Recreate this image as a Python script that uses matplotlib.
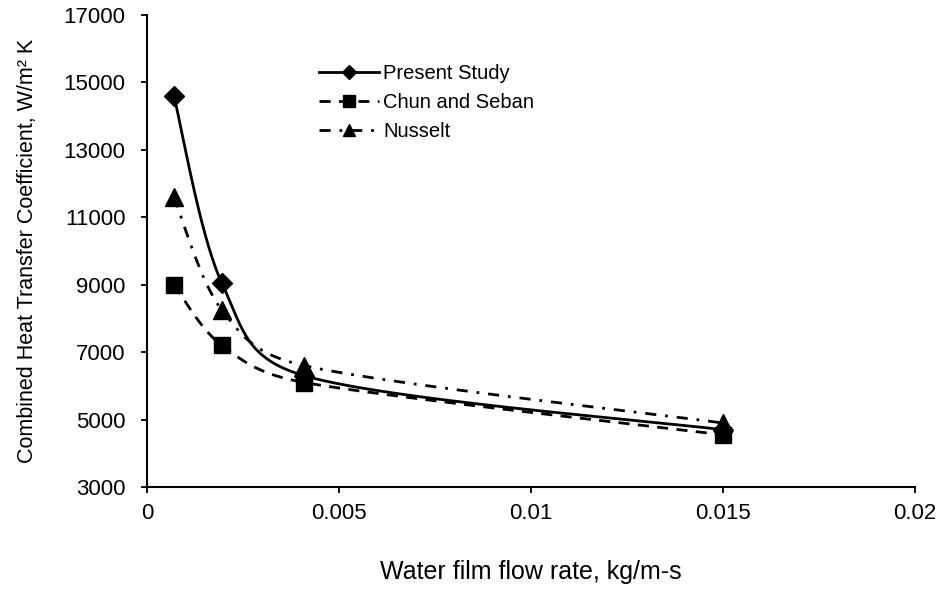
import matplotlib

matplotlib.use("Agg")
import matplotlib.pyplot as plt
import numpy as np

# water film flow rate, kg/m-s
flow_rate = [0.0007, 0.00195, 0.0041, 0.015]

present_study = [14600, 9050, 6300, 4700]
chun_seban = [9000, 7200, 6100, 4550]
nusselt = [11600, 8250, 6600, 4900]

x_ticks = [0, 0.005, 0.01, 0.015, 0.02]
x_tick_labels = ["0", "0.005", "0.01", "0.015", "0.02"]
y_ticks = [3000, 5000, 7000, 9000, 11000, 13000, 15000, 17000]

plt.rcParams["font.family"] = ["Liberation Sans", "DejaVu Sans"]


def smooth_curve(ax, xs, ys, n=80):
    # Bezier smoothing through the points (spreadsheet-style), done in
    # display space; control arms are capped at half the segment length.
    pts = ax.transData.transform(np.column_stack([xs, ys]))
    p = np.vstack([pts[0], pts, pts[-1]])
    out = []
    t = np.linspace(0, 1, n)[:, None]
    for i in range(1, len(p) - 2):
        p0, p1, p2, p3 = p[i - 1], p[i], p[i + 1], p[i + 2]
        d12 = np.linalg.norm(p2 - p1)
        d02 = np.linalg.norm(p2 - p0)
        d13 = np.linalg.norm(p3 - p1)
        f1 = 1 / 6 if d02 / 6 < d12 / 2 else (d12 / 2) / d02
        f2 = 1 / 6 if d13 / 6 < d12 / 2 else (d12 / 2) / d13
        c1 = p1 + (p2 - p0) * f1
        c2 = p2 - (p3 - p1) * f2
        seg = ((1 - t) ** 3) * p1 + 3 * ((1 - t) ** 2) * t * c1 + 3 * (1 - t) * t ** 2 * c2 + t ** 3 * p2
        out.append(seg if i == 1 else seg[1:])
    curve = ax.transData.inverted().transform(np.vstack(out))
    return curve[:, 0], curve[:, 1]


fig = plt.figure(figsize=(9.42, 5.94), dpi=100)
ax = fig.add_axes([0.156, 0.18, 0.815, 0.795])
ax.set_xlim(0, 0.02)
ax.set_ylim(3000, 17000)

series = [
    ("Present Study", present_study, "-", "D", 10, 7),
    ("Chun and Seban", chun_seban, (0, (4, 3)), "s", 11.5, 8),
    ("Nusselt", nusselt, (0, (4, 3.2, 1, 3.2)), "^", 12.5, 9),
]

for label, values, ls, marker, ms, legend_ms in series:
    sx, sy = smooth_curve(ax, flow_rate, values)
    ax.plot(sx, sy, color="black", linestyle=ls, linewidth=2.0)
    ax.plot(flow_rate, values, linestyle="none", marker=marker, markersize=ms, color="black")
    # legend proxy: line with the marker in the middle
    ax.plot([], [], color="black", linestyle=ls, linewidth=2.0, marker=marker,
            markersize=legend_ms, label=label)

ax.set_xticks(x_ticks)
ax.set_xticklabels(x_tick_labels)
ax.set_yticks(y_ticks)
ax.tick_params(axis="both", direction="out", length=4.5, width=1.3, labelsize=16, colors="black")
ax.tick_params(axis="y", pad=11)
ax.tick_params(axis="x", pad=7)

for side in ("top", "right"):
    ax.spines[side].set_visible(False)
for side in ("left", "bottom"):
    ax.spines[side].set_linewidth(1.5)

ax.set_xlabel("Water film flow rate, kg/m-s", fontsize=18)
ax.xaxis.set_label_coords(0.5, -0.155)
ax.set_ylabel("Combined Heat Transfer Coefficient, W/m² K", fontsize=15.5)
ax.yaxis.set_label_coords(-0.142, 0.5)

ax.legend(loc="upper left", bbox_to_anchor=(0.2, 0.934), frameon=False, fontsize=14.5,
          handlelength=3.0, handletextpad=0.2, labelspacing=0.5)

fig.savefig("out.png", dpi=100)
